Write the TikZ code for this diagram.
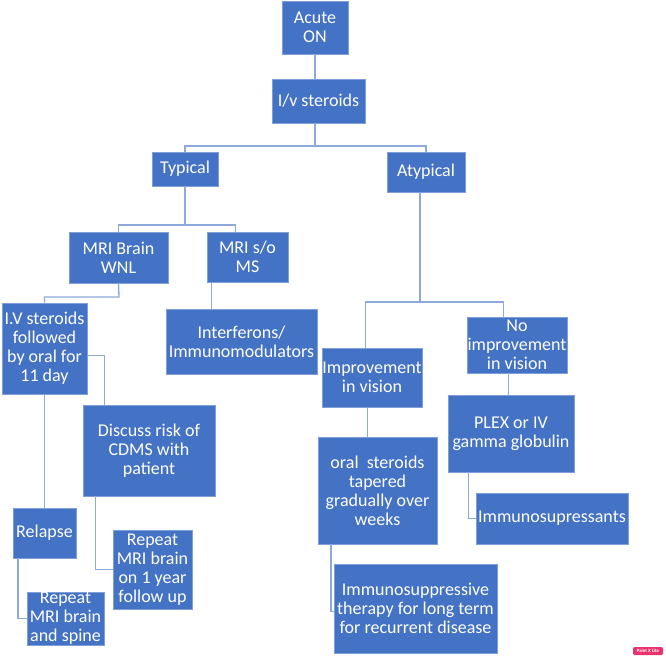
\documentclass[tikz,border=0pt]{standalone}
\usepackage{fontspec}
\setmainfont{Carlito}
\usetikzlibrary{calc}
\definecolor{boxblue}{HTML}{4472C4}
\definecolor{boxedge}{HTML}{7F9FD8}
\definecolor{linkblue}{HTML}{8EA9DB}
\definecolor{wmpink}{HTML}{E8336E}
\tikzset{
  box/.style={draw=boxedge, fill=boxblue, text=white, align=center, inner sep=0pt,
    line width=0.6pt, font=\fontsize{13.5}{14.25}\selectfont},
  sz/.style 2 args={minimum width=#1*0.75pt, minimum height=#2*0.75pt},
  link/.style={draw=linkblue, line width=1pt},
}
\begin{document}
\begin{tikzpicture}[x=0.75pt,y=-0.75pt]
\useasboundingbox[fill=white] (0,0) rectangle (666,661);
% nodes
\node[box,sz={66}{53}] (acute) at (315,27.5) {Acute\\ON};
\node[box,sz={93}{44}] (iv) at (318.5,101) {I/v steroids};
\node[box,sz={66}{34}] (typical) at (185,169) {Typical};
\node[box,sz={78}{40}] (atypical) at (426,172) {Atypical};
\node[box,sz={99}{51}] (mriwnl) at (118.5,257.5) {MRI Brain\\WNL};
\node[box,sz={81}{50}] (mrims) at (247.5,257) {MRI s/o\\MS};
\node[box,sz={85}{91}] (ivst) at (44.5,348.5) {I.V steroids\\followed\\by oral for\\11 day};
\node[box,sz={151}{65}] (interf) at (241.5,341.5) {\raisebox{-4pt}{}Interferons/\\Immunomodulators};
\node[box,sz={100}{59}] (improve) at (372,377.5) {Improvement\\in vision};
\node[box,sz={100}{56}] (noimp) at (517,345) {No\\improvement\\in vision};
\node[box,sz={132}{91}] (discuss) at (149,450.5) {Discuss risk of\\CDMS with\\patient};
\node[box,sz={126}{77}] (plex) at (511,433.5) {PLEX or IV\\gamma globulin};
\node[box,sz={119}{107}] (oral) at (377.5,490.5) {oral~ steroids\\tapered\\gradually over\\weeks};
\node[box,sz={152}{51}] (immsup) at (552,518.5) {Immunosupressants};
\node[box,sz={63}{50}] (relapse) at (44.5,533) {Relapse};
\node[box,sz={79}{79}] (rep1yr) at (152.5,569.5) {Repeat\\MRI brain\\on 1 year\\follow up};
\node[box,sz={77}{53}] (repspine) at (65.5,618.5) {Repeat\\MRI brain\\and spine};
\node[box,sz={163}{89}] (immther) at (415.5,608.5) {Immunosuppressive\\therapy for long term\\for recurrent disease};
% watermark
\node[fill=wmpink, text=white, rounded corners=1pt, inner sep=0.6pt, minimum width=30*0.75pt, minimum height=8*0.75pt, font=\fontsize{3.6}{4}\selectfont\bfseries] (wm) at (648,651) {Paint X Lite};
% bus junctions
\coordinate (b1) at (315,146);
\coordinate (b2) at (185,225);
\coordinate (b3) at (119,297);
\coordinate (b4) at (420,302);
% connectors
\draw[link] (acute.south) -- (acute.south |- iv.north);
\draw[link] (acute.south |- iv.south) -- (b1) -| (typical.north);
\draw[link] (b1) -| (atypical.north);
\draw[link] (typical.south) -- (b2) -| (mriwnl.north);
\draw[link] (b2) -| ($(mrims.north west)+(29,0)$);
\draw[link] (mriwnl.south) -- (b3) -| (ivst.north);
\draw[link] ($(mrims.south west)+(5,0)$) -- ($(mrims.south west |- interf.north)+(5,0)$);
\draw[link] ($(ivst.north east)+(0,53)$) -| ($(discuss.north west)+(22,0)$);
\draw[link] (ivst.south) -- (ivst.south |- relapse.north);
\draw[link] ($(relapse.south west)+(5.5,0)$) |- (repspine.west);
\draw[link] ($(discuss.south west)+(13,0)$) |- (rep1yr.west);
\draw[link] (atypical.south -| b4) -- (b4) -| ($(improve.north west)+(44,0)$);
\draw[link] (b4) -| ($(noimp.north west)+(37,0)$);
\draw[link] ($(noimp.south west)+(42,0)$) -- ($(noimp.south west |- plex.north)+(42,0)$);
\draw[link] ($(improve.south west)+(46,0)$) -- ($(improve.south west |- oral.north)+(46,0)$);
\draw[link] ($(plex.south west)+(21,0)$) |- (immsup.west);
\draw[link] ($(oral.south west)+(13.5,0)$) |- ($(immther.west)+(0,3)$);
\end{tikzpicture}
\end{document}
